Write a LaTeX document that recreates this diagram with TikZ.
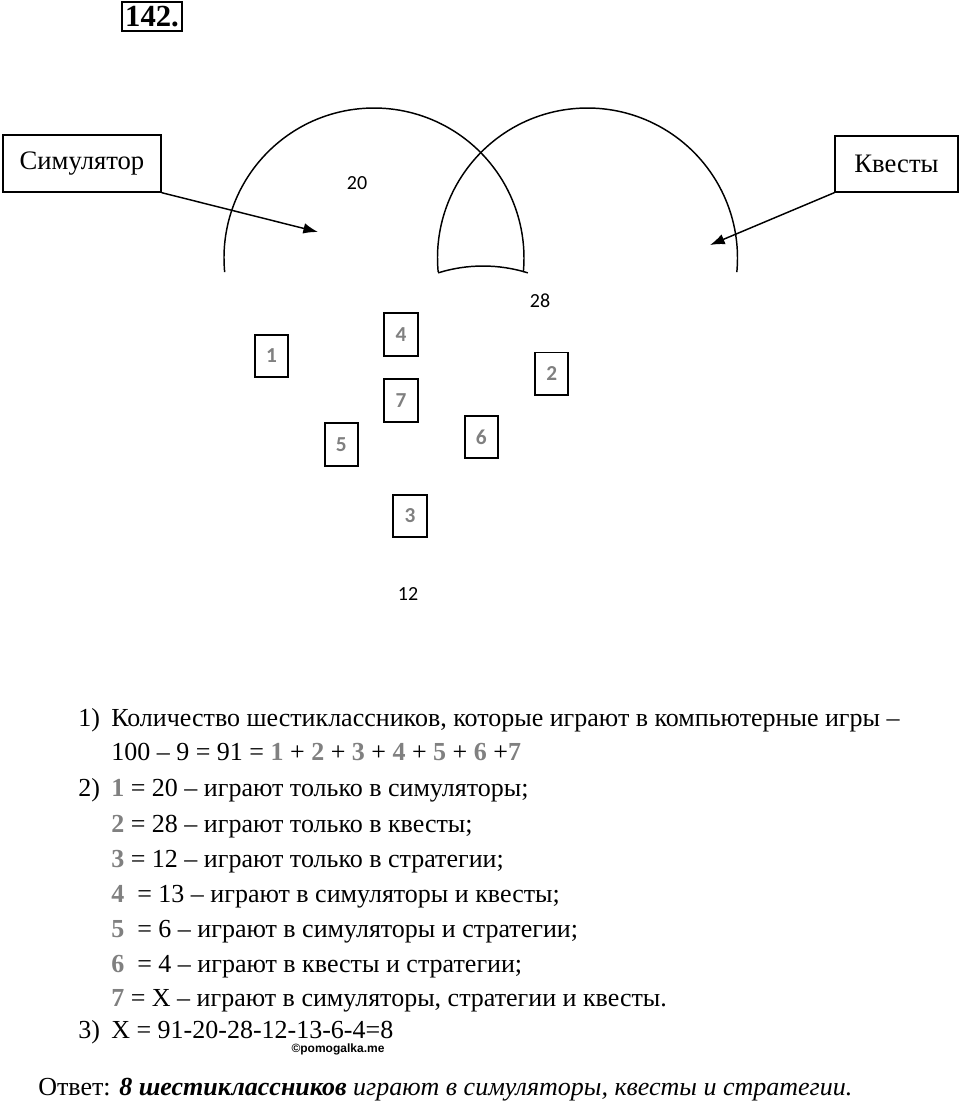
\documentclass[tikz,border=0pt]{standalone}
\usepackage{fontspec}
\setmainfont{Liberation Serif}
\newfontfamily\calfont{Carlito}
\newfontfamily\wmfont{Liberation Sans}
\usepackage{tikz}
\usetikzlibrary{arrows,arrows.meta}
\definecolor{numgray}{RGB}{128,128,128}
\newcommand{\gn}[1]{\textcolor{numgray}{\textbf{#1}}}

\begin{document}
\begin{tikzpicture}[x=0.75pt,y=0.75pt,
  numbox/.style={draw, line width=1.4pt, minimum width=25pt, minimum height=32pt, inner sep=0pt,
    font=\calfont\fontsize{16}{16}\selectfont\bfseries, text=numgray},
  setlabel/.style={draw, line width=1pt, inner sep=0pt, font=\fontsize{20}{20}\selectfont},
  cnt/.style={font=\calfont\fontsize{15}{15}\selectfont},
  line/.style={anchor=base west, inner sep=0pt, font=\fontsize{19.5}{19.5}\selectfont},
  ring/.style={line width=1.1pt},
  pointer/.style={-{Latex[length=11pt,width=8pt]}, line width=1.1pt}]
\useasboundingbox (0,0) rectangle (960,-1103);

\node [draw, line width=1.5pt, minimum width=45pt, minimum height=21.75pt, inner sep=0pt,
  font=\fontsize{23}{23}\selectfont\bfseries] (num) at (152,-16.5) {142.};

% circles
\draw [ring] (374,-258) ++(185.4:150) arc [start angle=185.4, end angle=-5.4, radius=150];
\draw [ring] (587.5,-258) ++(185.4:150) arc [start angle=185.4, end angle=-5.4, radius=150];
\draw [ring] (483,-416) ++(107.4:150) arc [start angle=107.4, end angle=72.6, radius=150];

\node [setlabel, minimum width=118.5pt, minimum height=42.75pt] (sim) at (82,-163.5) {Симулятор};
\node [setlabel, minimum width=92.25pt, minimum height=42pt] (kv) at (896.5,-164) {Квесты};
\coordinate (simtip) at (318,-232);
\coordinate (kvtip) at (710,-245);
\draw [pointer] (sim.south east) -- (simtip);
\draw [pointer] (kv.south west) -- (kvtip);

\node [cnt] (c20) at (357,-183) {20};
\node [cnt] (c28) at (540,-301) {28};
\node [cnt] (c12) at (408,-594) {12};

\node [numbox] (b1) at (271.5,-356) {1};
\node [numbox] (b4) at (401,-334.7) {4};
\node [numbox] (b2) at (551.7,-373.8) {2};
\node [numbox] (b7) at (401,-400.3) {7};
\node [numbox] (b5) at (341.3,-444.3) {5};
\node [numbox] (b6) at (481.3,-437) {6};
\node [numbox] (b3) at (410,-516) {3};

% solution
\node [line] (n1) at (78,-726) {1)};
\node [line] (t1) at (111,-726) {Количество шестиклассников, которые играют в компьютерные игры –};
\node [line] (t2) at (111,-760) {100 – 9 = 91 = \gn{1} + \gn{2} + \gn{3} + \gn{4} + \gn{5} + \gn{6} +\gn{7}};
\node [line] (n2) at (78,-796) {2)};
\node [line] (t3) at (111,-796) {\gn{1} = 20 – играют только в симуляторы;};
\node [line] (t4) at (111,-832) {\gn{2} = 28 – играют только в квесты;};
\node [line] (t5) at (111,-867) {\gn{3} = 12 – играют только в стратегии;};
\node [line] (t6) at (111,-902) {\gn{4}\ \ = 13 – играют в симуляторы и квесты;};
\node [line] (t7) at (111,-937) {\gn{5}\ \ = 6 – играют в симуляторы и стратегии;};
\node [line] (t8) at (111,-972) {\gn{6}\ \ = 4 – играют в квесты и стратегии;};
\node [line] (t9) at (111,-1006) {\gn{7} = X – играют в симуляторы, стратегии и квесты.};
\node [line] (n3) at (78,-1038) {3)};
\node [line] (t10) at (111,-1038) {X = 91-20-28-12-13-6-4=8};
\node [font=\wmfont\fontsize{9}{9}\selectfont\bfseries, inner sep=0pt] (wm) at (338,-1049) {©pomogalka.me};
\node [line] (ans) at (38,-1095) {Ответ: \textbf{\textit{8 шестиклассников}} \textit{играют в симуляторы, квесты и стратегии.}};
\end{tikzpicture}
\end{document}
